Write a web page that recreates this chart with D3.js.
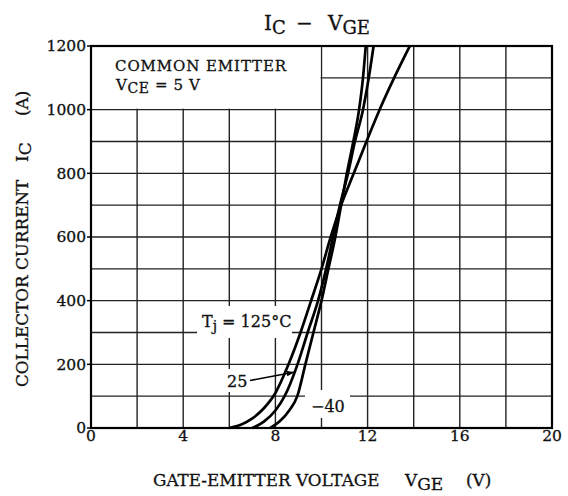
<!DOCTYPE html>
<html>
<head>
<meta charset="utf-8">
<script src="https://cdn.jsdelivr.net/npm/d3@7"></script>
<style>
  body { margin: 0; background: #fff; }
  text { font-family: "DejaVu Serif", "Liberation Serif", serif; fill: #111; stroke: #111; stroke-width: 0.3px; }
</style>
</head>
<body>
<div id="chart"></div>
<script>
// Data
const xTicks = [0, 4, 8, 12, 16, 20];
const yTicks = [0, 200, 400, 600, 800, 1000, 1200];

const vge125 = [6.0, 6.5, 7.0, 7.5, 8.0, 8.57, 9.09, 9.55, 10.0, 10.4, 10.85, 11.4, 11.95, 12.52, 13.15, 13.83];
const ic125  = [0, 10, 30, 62, 110, 200, 300, 400, 500, 600, 700, 800, 900, 1000, 1100, 1200];

const vge25 = [7.0, 7.5, 8.0, 8.4, 8.96, 9.4, 9.85, 10.2, 10.5, 10.8, 11.15, 11.45, 11.8, 12.05, 12.26];
const ic25  = [0, 20, 55, 100, 200, 300, 400, 500, 600, 700, 800, 900, 1000, 1100, 1200];

const vgeM40 = [7.78, 8.2, 8.6, 8.95, 9.3, 9.65, 10.0, 10.3, 10.6, 10.85, 11.1, 11.38, 11.63, 11.8, 11.92];
const icM40  = [0, 22, 55, 100, 200, 300, 400, 500, 600, 700, 800, 900, 1000, 1100, 1200];

const W = 568, H = 496;
const margin = { top: 46, right: 16, bottom: 68, left: 91 };
const width = W - margin.left - margin.right;
const height = H - margin.top - margin.bottom;

const svg = d3.select("#chart").append("svg")
    .attr("width", W)
    .attr("height", H);

const g = svg.append("g")
    .attr("transform", `translate(${margin.left},${margin.top})`);

const x = d3.scaleLinear().domain([0, 20]).range([0, width]);
const y = d3.scaleLinear().domain([0, 1200]).range([height, 0]);

// grid
const grid = g.append("g").attr("stroke", "#222").attr("stroke-width", 1.4);
grid.selectAll("line.v")
    .data(d3.range(2, 20, 2))
    .join("line")
    .attr("x1", d => x(d)).attr("x2", d => x(d))
    .attr("y1", 0).attr("y2", height);
grid.selectAll("line.h")
    .data(d3.range(100, 1200, 100))
    .join("line")
    .attr("x1", 0).attr("x2", width)
    .attr("y1", d => y(d)).attr("y2", d => y(d));

// white box under the "common emitter" note
g.append("rect")
    .attr("x", x(0) + 1).attr("y", y(1200))
    .attr("width", x(10) - x(0) - 2)
    .attr("height", y(1000) - y(1200) - 1)
    .attr("fill", "#fff");
// label backgrounds
g.append("rect").attr("x", 197 - margin.left).attr("y", 306 - margin.top)
    .attr("width", 95).attr("height", 32).attr("fill", "#fff");
g.append("rect").attr("x", 225 - margin.left).attr("y", 369 - margin.top)
    .attr("width", 26).attr("height", 23).attr("fill", "#fff");
g.append("rect").attr("x", 305 - margin.left).attr("y", 390 - margin.top)
    .attr("width", 45).attr("height", 28).attr("fill", "#fff");

// curves
const line = d3.line()
    .x(d => x(d[0]))
    .y(d => y(d[1]))
    .curve(d3.curveMonotoneX);

const series = [
    d3.zip(vge125, ic125),
    d3.zip(vge25, ic25),
    d3.zip(vgeM40, icM40)
];

g.append("g")
    .selectAll("path")
    .data(series)
    .join("path")
    .attr("d", line)
    .attr("fill", "none")
    .attr("stroke", "#000")
    .attr("stroke-width", 2.7);

// frame
g.append("rect")
    .attr("width", width).attr("height", height)
    .attr("fill", "none").attr("stroke", "#000").attr("stroke-width", 2.2);

// axes ticks + labels
g.selectAll("line.yt")
    .data(yTicks)
    .join("line")
    .attr("x1", -4).attr("x2", 0)
    .attr("y1", d => y(d)).attr("y2", d => y(d))
    .attr("stroke", "#000").attr("stroke-width", 1.5);

g.selectAll("text.yl")
    .data(yTicks)
    .join("text")
    .attr("x", -5)
    .attr("y", d => y(d))
    .attr("dy", "0.35em")
    .attr("text-anchor", "end")
    .style("font-size", "15.5px")
    .text(d => d);

g.selectAll("text.xl")
    .data(xTicks)
    .join("text")
    .attr("x", d => x(d))
    .attr("y", height + 13)
    .attr("text-anchor", "middle")
    .style("font-size", "15.5px")
    .text(d => d);

// title
const title = svg.append("text")
    .attr("y", 30)
    .style("font-size", "20px");
title.append("tspan").attr("x", 264).text("I");
title.append("tspan").attr("dy", 4).style("font-size", "18px").text("C");
title.append("tspan").attr("x", 296).attr("dy", -4).text("\u2212");
title.append("tspan").attr("x", 328).text("V");
title.append("tspan").attr("dy", 4).style("font-size", "18px").text("GE");

// x axis title
const xt = svg.append("text")
    .attr("y", 486)
    .style("font-size", "16.8px");
xt.append("tspan").attr("x", 153).text("GATE-EMITTER VOLTAGE");
xt.append("tspan").attr("x", 405).text("V");
xt.append("tspan").attr("dy", 4).style("font-size", "17px").text("GE");
xt.append("tspan").attr("x", 466).attr("dy", -4).text("(V)");

// y axis title
const yt = svg.append("text")
    .attr("transform", "translate(28,0) rotate(-90)")
    .style("font-size", "16.8px");
yt.append("tspan").attr("x", -387).text("COLLECTOR CURRENT");
yt.append("tspan").attr("x", -162).text("I");
yt.append("tspan").attr("dy", 3).style("font-size", "17px").text("C");
yt.append("tspan").attr("x", -116).attr("dy", -3).text("(A)");

// annotations
const ann = svg.append("g").style("font-size", "16px");
ann.append("text").attr("x", 115).attr("y", 71)
    .style("font-size", "15px").style("letter-spacing", "0.9px")
    .text("COMMON EMITTER");
const vce = ann.append("text").attr("x", 116).attr("y", 90)
    .style("font-size", "15px").style("letter-spacing", "0.6px");
vce.append("tspan").text("V");
vce.append("tspan").attr("dy", 3).style("font-size", "14px").text("CE");
vce.append("tspan").attr("dy", -3).text(" = 5 V");

const tj = ann.append("text").attr("x", 202).attr("y", 327);
tj.append("tspan").text("T");
tj.append("tspan").attr("dy", 4).style("font-size", "14px").text("j");
tj.append("tspan").attr("dy", -4).text(" = 125\u00b0C");

ann.append("text").attr("x", 227).attr("y", 387).text("25");
ann.append("text").attr("x", 311).attr("y", 412).text("\u221240");

// arrow for 25
svg.append("defs").append("marker")
    .attr("id", "arr")
    .attr("viewBox", "0 0 10 10")
    .attr("refX", 9).attr("refY", 5)
    .attr("markerWidth", 5).attr("markerHeight", 5)
    .attr("orient", "auto")
    .append("path").attr("d", "M0,1.5 L10,5 L0,8.5 Z").attr("fill", "#000");
svg.append("line")
    .attr("x1", 250).attr("y1", 380.5)
    .attr("x2", x(8.8) + margin.left).attr("y2", y(175) + margin.top)
    .attr("stroke", "#000").attr("stroke-width", 1.6)
    .attr("marker-end", "url(#arr)");
</script>
</body>
</html>
